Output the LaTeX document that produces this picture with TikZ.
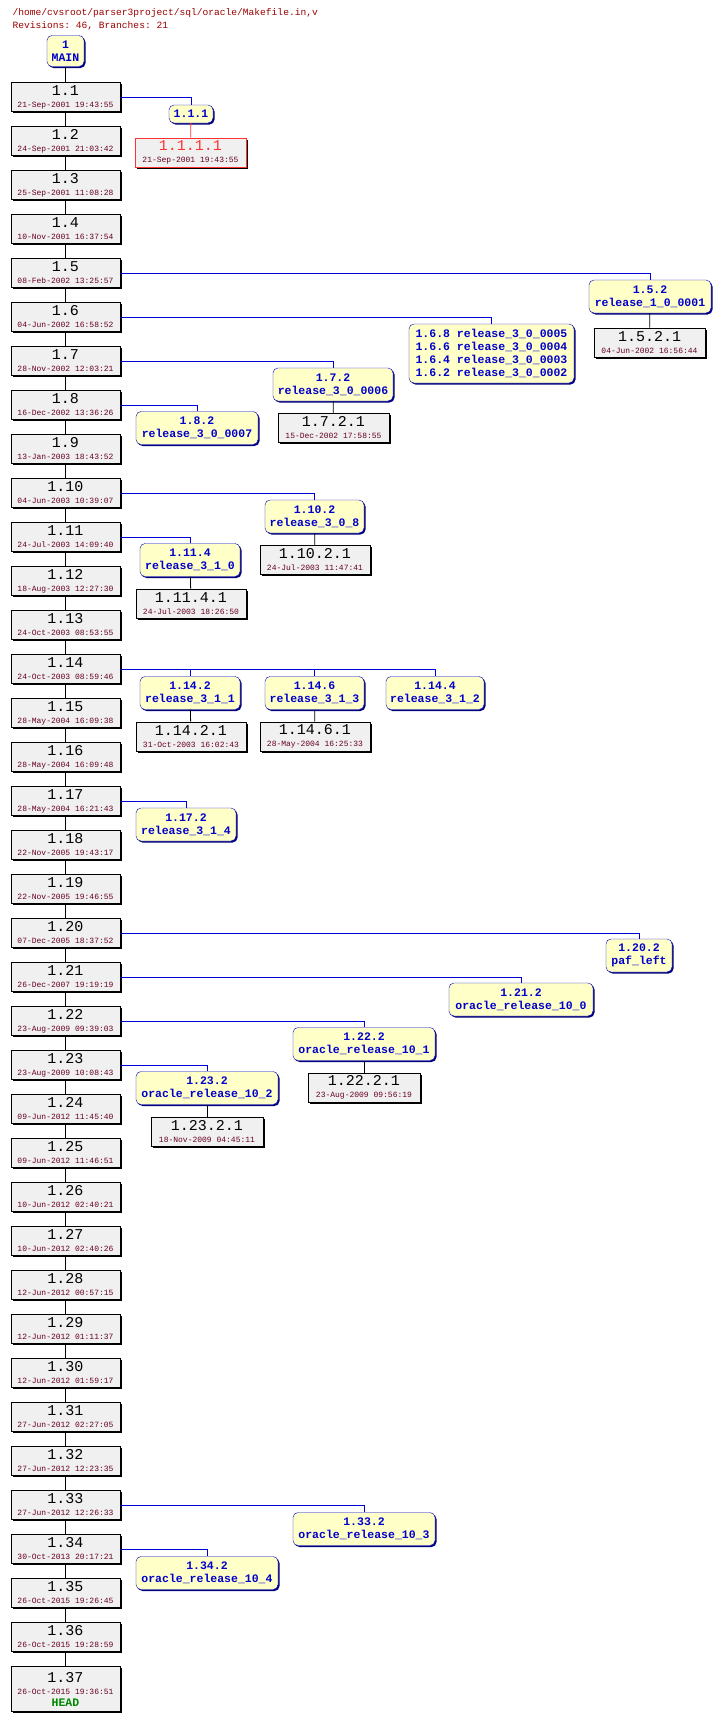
\documentclass[tikz,border=0pt]{standalone}
\usepackage{fontspec}
\setmonofont{Liberation Mono}
\usetikzlibrary{positioning}
\usetikzlibrary{shadows}
\definecolor{datered}{HTML}{660022}
\definecolor{titlered}{HTML}{990000}
\definecolor{tagblue}{HTML}{0000CC}
\definecolor{tagfill}{HTML}{FFFFC8}
\definecolor{revfill}{HTML}{F0F0F0}
\definecolor{deadred}{HTML}{FF3333}
\definecolor{headgreen}{HTML}{008800}
\newcommand{\revfont}{\fontsize{15}{14}\selectfont}
\newcommand{\datefont}{\fontsize{8}{8}\selectfont}
\newcommand{\tagfont}{\fontsize{11.5}{13}\selectfont\bfseries}
\newcommand{\rev}[2]{{\revfont #1}\\{\datefont\color{datered}#2}}

\begin{document}
\begin{tikzpicture}[x=1pt,y=-1pt,font=\ttfamily,
    rev/.style={draw,fill=revfill,thick,minimum width=109,minimum height=29,
      inner sep=0pt,align=center,
      drop shadow={shadow xshift=1.5pt,shadow yshift=-1.5pt,fill=black,opacity=1}},
    tag/.style={draw=tagblue,fill=tagfill,text=tagblue,rounded corners=5pt,
      minimum width=#1,minimum height=33,inner sep=0pt,align=center,font=\ttfamily\tagfont,
      drop shadow={shadow xshift=1.5pt,shadow yshift=-1.5pt,fill=tagblue!60!black,opacity=1}},
    link/.style={draw=blue!85!black,thick}]
    \useasboundingbox (0,0) rectangle (720,1719);

    % Header
    \node[anchor=west,text=titlered,font=\ttfamily\fontsize{9.6}{10}\selectfont] (file) at (9,13) {/home/cvsroot/parser3project/sql/oracle/Makefile.in,v};
    \node[anchor=west,text=titlered,font=\ttfamily\fontsize{9.6}{10}\selectfont] (stats) at (9,26) {Revisions: 46, Branches: 21};

    % Trunk
    \node[tag=37,minimum height=31] (main) at (65.5,51) {1\\MAIN};
    \foreach \n/\d [count=\i, remember=\i as \j (initially 0)] in {
        1.1/21-Sep-2001 19:43:55, 1.2/24-Sep-2001 21:03:42, 1.3/25-Sep-2001 11:08:28,
        1.4/10-Nov-2001 16:37:54, 1.5/08-Feb-2002 13:25:57, 1.6/04-Jun-2002 16:58:52,
        1.7/28-Nov-2002 12:03:21, 1.8/16-Dec-2002 13:36:26, 1.9/13-Jan-2003 18:43:52,
        1.10/04-Jun-2003 10:39:07, 1.11/24-Jul-2003 14:09:40, 1.12/18-Aug-2003 12:27:30,
        1.13/24-Oct-2003 08:53:55, 1.14/24-Oct-2003 08:59:46, 1.15/28-May-2004 16:09:38,
        1.16/28-May-2004 16:09:48, 1.17/28-May-2004 16:21:43, 1.18/22-Nov-2005 19:43:17,
        1.19/22-Nov-2005 19:46:55, 1.20/07-Dec-2005 18:37:52, 1.21/26-Dec-2007 19:19:19,
        1.22/23-Aug-2009 09:39:03, 1.23/23-Aug-2009 10:08:43, 1.24/09-Jun-2012 11:45:40,
        1.25/09-Jun-2012 11:46:51, 1.26/10-Jun-2012 02:40:21, 1.27/10-Jun-2012 02:40:26,
        1.28/12-Jun-2012 00:57:15, 1.29/12-Jun-2012 01:11:37, 1.30/12-Jun-2012 01:59:17,
        1.31/27-Jun-2012 02:27:05, 1.32/27-Jun-2012 12:23:35, 1.33/27-Jun-2012 12:26:33,
        1.34/30-Oct-2013 20:17:21, 1.35/26-Oct-2015 19:26:45, 1.36/26-Oct-2015 19:28:59} {
        \node[rev] (r\i) at (65.5,{97+44*(\i-1)}) {\rev{\n}{\d}};
        \ifnum\i>1 \draw[thick] (r\j) -- (r\i); \fi
    }
    \node[rev,minimum height=45] (r37) at (65.5,1689) {\rev{1.37}{26-Oct-2015 19:36:51}\\{\tagfont\color{headgreen}HEAD}};
    \draw[thick] (main) -- (r1);
    \draw[thick] (r36) -- (r37);

    % Branches
    \node[tag=44,minimum height=18] (b111) at (191,114) {1.1.1};
    \node[rev,draw=deadred,minimum width=111,text=deadred] (r1111) at (190.5,152.5) {{\revfont 1.1.1.1}\\{\datefont\color{datered}21-Sep-2001 19:43:55}};
    \node[tag=122] (b152) at (650,296.5) {1.5.2\\release\_1\_0\_0001};
    \node[rev,minimum width=111] (r1521) at (649.5,342.5) {\rev{1.5.2.1}{04-Jun-2002 16:56:44}};
    \node[tag=165,minimum height=59,align=left] (b16) at (491.5,353.5) {1.6.8 release\_3\_0\_0005\\1.6.6 release\_3\_0\_0004\\1.6.4 release\_3\_0\_0003\\1.6.2 release\_3\_0\_0002};
    \node[tag=120] (b172) at (333,384.5) {1.7.2\\release\_3\_0\_0006};
    \node[rev,minimum width=111] (r1721) at (333.5,428) {\rev{1.7.2.1}{15-Dec-2002 17:58:55}};
    \node[tag=122] (b182) at (197,428) {1.8.2\\release\_3\_0\_0007};
    \node[tag=99] (b1102) at (314.5,516.5) {1.10.2\\release\_3\_0\_8};
    \node[rev,minimum width=110] (r11021) at (315,560) {\rev{1.10.2.1}{24-Jul-2003 11:47:41}};
    \node[tag=100] (b1114) at (190,560) {1.11.4\\release\_3\_1\_0};
    \node[rev,minimum width=110] (r11141) at (191,603.5) {\rev{1.11.4.1}{24-Jul-2003 18:26:50}};
    \node[tag=100] (b1142) at (190,693) {1.14.2\\release\_3\_1\_1};
    \node[rev,minimum width=110] (r11421) at (191,736.5) {\rev{1.14.2.1}{31-Oct-2003 16:02:43}};
    \node[tag=99] (b1146) at (314.5,693) {1.14.6\\release\_3\_1\_3};
    \node[rev,minimum width=110] (r11461) at (315,736.5) {\rev{1.14.6.1}{28-May-2004 16:25:33}};
    \node[tag=98] (b1144) at (435,693) {1.14.4\\release\_3\_1\_2};
    \node[tag=100] (b1172) at (186,824.5) {1.17.2\\release\_3\_1\_4};
    \node[tag=66] (b1202) at (639,955.5) {1.20.2\\paf\_left};
    \node[tag=144] (b1212) at (521,999.5) {1.21.2\\oracle\_release\_10\_0};
    \node[tag=142] (b1222) at (364,1044) {1.22.2\\oracle\_release\_10\_1};
    \node[rev,minimum width=112] (r12221) at (364,1087.5) {\rev{1.22.2.1}{23-Aug-2009 09:56:19}};
    \node[tag=142] (b1232) at (207,1088) {1.23.2\\oracle\_release\_10\_2};
    \node[rev,minimum width=112] (r12321) at (207,1132) {\rev{1.23.2.1}{18-Nov-2009 04:45:11}};
    \node[tag=142] (b1332) at (364,1529) {1.33.2\\oracle\_release\_10\_3};
    \node[tag=142] (b1342) at (207,1573) {1.34.2\\oracle\_release\_10\_4};

    % Connection
    \draw[link] (r1) -| (b111);
    \draw[thick,deadred] (b111) -- (r1111);
    \draw[link] (r5) -| (b152);
    \draw[thick] (b152) -- (r1521);
    \draw[link] (r6) -| (b16);
    \draw[link] (r7) -| (b172);
    \draw[thick] (b172) -- (r1721);
    \draw[link] (r8) -| (b182);
    \draw[link] (r10) -| (b1102);
    \draw[thick] (b1102) -- (r11021);
    \draw[link] (r11) -| (b1114);
    \draw[thick] (b1114) -- (r11141);
    \draw[link] (r14) -| (b1144);
    \draw[link] (r14) -| (b1142);
    \draw[link] (r14) -| (b1146);
    \draw[thick] (b1142) -- (r11421);
    \draw[thick] (b1146) -- (r11461);
    \draw[link] (r17) -| (b1172);
    \draw[link] (r20) -| (b1202);
    \draw[link] (r21) -| (b1212);
    \draw[link] (r22) -| (b1222);
    \draw[thick] (b1222) -- (r12221);
    \draw[link] (r23) -| (b1232);
    \draw[thick] (b1232) -- (r12321);
    \draw[link] (r33) -| (b1332);
    \draw[link] (r34) -| (b1342);
\end{tikzpicture}
\end{document}
